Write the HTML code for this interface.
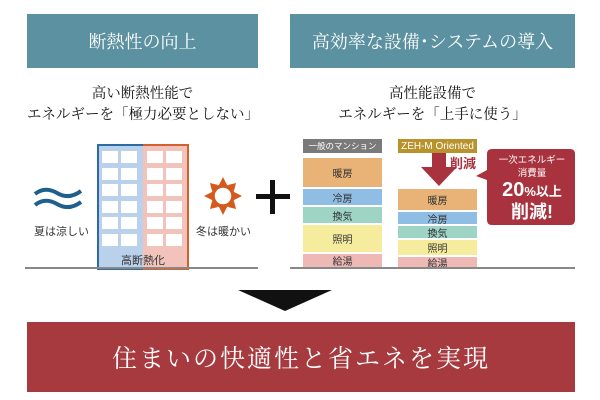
<!DOCTYPE html>
<html><head><meta charset="utf-8"><style>
body{margin:0;width:600px;height:400px;background:#fff;position:relative;overflow:hidden;font-family:"Liberation Sans","Noto Sans CJK JP",sans-serif}
.a{position:absolute}
.hd{background:#5b91a0;color:#fff;font-family:"Liberation Serif","Noto Serif CJK SC",serif;font-size:18px;display:flex;align-items:center;justify-content:center;top:14px;height:54px}
.sub{font-family:"Liberation Serif","Noto Serif CJK SC",serif;font-size:14.5px;color:#111;text-align:center;line-height:21px;top:84px}
.bx{position:absolute;display:flex;align-items:center;justify-content:center;font-size:10px;color:#333;white-space:nowrap;overflow:hidden}
.win{position:absolute;background:#fff;width:16px;height:12px}
</style></head><body>
<div class="a hd" style="left:27px;width:231px">断熱性の向上</div>
<div class="a hd" style="left:290px;width:285px">高効率な設備･システムの導入</div>
<div class="a sub" style="left:27px;width:231px">高い断熱性能で<br>エネルギーを「極力必要としない」</div>
<div class="a sub" style="left:290px;width:285px">高性能設備で<br>エネルギーを「上手に使う」</div>

<!-- building -->
<div class="a" style="left:97px;top:144px;width:44px;height:122px;background:#b9d1ea;border:2px solid #2d6ca3;border-right:none"></div>
<div class="a" style="left:143px;top:144px;width:44px;height:122px;background:#f1c3bb;border:2px solid #d2612e;border-left:none"></div>
<div id="wins"></div>
<div class="a" style="left:97px;top:252px;width:92px;text-align:center;font-size:11px;color:#333">高断熱化</div>
<div class="a" style="left:25px;top:267px;width:233px;height:2px;background:#888"></div>
<div class="a" style="left:290px;top:267px;width:285px;height:2px;background:#888"></div>

<svg class="a" style="left:33px;top:186px" width="52" height="24"><path d="M2 8 Q12 0 24 7 T48 5" stroke="#1f5f8e" stroke-width="4" fill="none"/><path d="M2 19 Q12 11 24 18 T48 16" stroke="#1f5f8e" stroke-width="4" fill="none"/></svg>
<div class="a" style="left:34px;top:223px;font-size:11px;color:#333">夏は涼しい</div>
<svg class="a" style="left:203px;top:176px" width="40" height="40"><g fill="#d35a1c" transform="translate(20,20)"><polygon points="0,-19 4,-11 -4,-11"/><polygon points="0,19 4,11 -4,11"/><polygon points="-19,0 -11,4 -11,-4"/><polygon points="19,0 11,4 11,-4"/><polygon points="13,-13 11,-5 5,-11"/><polygon points="-13,13 -11,5 -5,11"/><polygon points="-13,-13 -5,-11 -11,-5"/><polygon points="13,13 5,11 11,5"/></g><circle cx="20" cy="20" r="10" fill="#fff" stroke="#d35a1c" stroke-width="3.5"/></svg>
<div class="a" style="left:196px;top:223px;font-size:11px;color:#333">冬は暖かい</div>
<div class="a" style="left:256px;top:194px;width:34px;height:5px;background:#111"></div>
<div class="a" style="left:270px;top:180px;width:5px;height:34px;background:#111"></div>

<!-- bars -->
<div class="bx" style="left:303px;top:139px;width:79px;height:14px;background:#7a7a7a;color:#fff;font-size:8.5px">一般のマンション</div>
<div class="bx" style="left:303px;top:158px;width:79px;height:29px;background:#e9b377">暖房</div>
<div class="bx" style="left:303px;top:189px;width:79px;height:16px;background:#8fbde3">冷房</div>
<div class="bx" style="left:303px;top:207px;width:79px;height:16px;background:#9dd4c4">換気</div>
<div class="bx" style="left:303px;top:225px;width:79px;height:27px;background:#f5ec9e">照明</div>
<div class="bx" style="left:303px;top:254px;width:79px;height:13px;background:#eeb8b4">給湯</div>

<div class="bx" style="left:398px;top:139px;width:79px;height:14px;background:#b8922a;color:#fff">ZEH-M Oriented</div>
<div class="bx" style="left:398px;top:189px;width:79px;height:21px;background:#e9b377">暖房</div>
<div class="bx" style="left:398px;top:212px;width:79px;height:12px;background:#8fbde3">冷房</div>
<div class="bx" style="left:398px;top:226px;width:79px;height:12px;background:#9dd4c4">換気</div>
<div class="bx" style="left:398px;top:240px;width:79px;height:15px;background:#f5ec9e">照明</div>
<div class="bx" style="left:398px;top:257px;width:79px;height:10px;background:#eeb8b4">給湯</div>

<svg class="a" style="left:420px;top:153px" width="40" height="34"><polygon points="12,0 26,0 26,14 37,14 19,33 1,14 12,14" fill="#a8323e"/></svg>
<div class="a" style="left:450px;top:153px;font-size:13px;font-weight:bold;color:#a8323e">削減</div>
<svg class="a" style="left:470px;top:148px" width="108" height="80"><path d="M22 1 H100 Q105 1 105 6 V72 Q105 77 100 77 H22 Q17 77 17 72 V32 L6 28 L17 22 V6 Q17 1 22 1Z" fill="#a8323e"/></svg>
<div class="a" style="left:487px;top:154px;width:90px;text-align:center;color:#fff;font-size:9.5px;line-height:13px">一次エネルギー<br>消費量</div>
<div class="a" style="left:487px;top:180px;width:90px;text-align:center;color:#fff;font-weight:bold;font-size:18px;line-height:20px"><span style="font-size:20px">20</span><span style="font-size:13px">%以上</span><br>削減!</div>

<!-- arrow -->
<svg class="a" style="left:238px;top:290px" width="94" height="22"><polygon points="0,0 94,0 47,21" fill="#111"/></svg>

<div class="a" style="left:27px;top:322px;width:548px;height:70px;background:#a63a3f;color:#fff;font-family:'Liberation Serif','Noto Serif CJK SC',serif;font-size:25px;letter-spacing:2px;display:flex;align-items:center;justify-content:center">住まいの快適性と省エネを実現</div>

<script>
var h='';var xs=[102,121,147,166];for(var r=0;r<6;r++)for(var c=0;c<4;c++)h+='<div class="win" style="left:'+xs[c]+'px;top:'+(151+r*16.5)+'px"></div>';document.getElementById('wins').innerHTML=h;
</script>
</body></html>
